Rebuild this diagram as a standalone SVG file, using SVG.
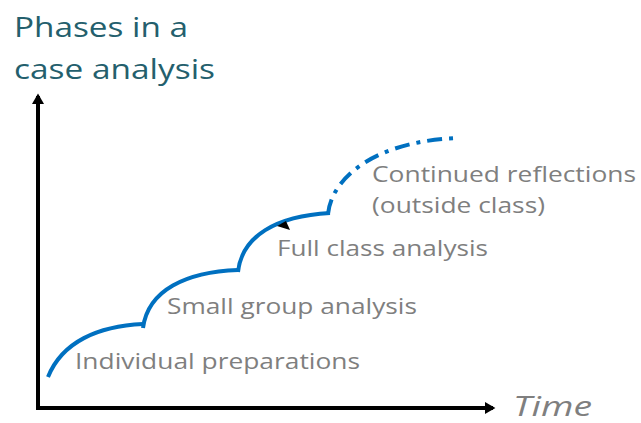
<svg xmlns="http://www.w3.org/2000/svg" width="641" height="423" viewBox="0 0 641 423">
  <style>
    .title { font-family: "Open Sans", "Liberation Sans", sans-serif; font-size: 28px; fill: #245f6d; }
    .label { font-family: "Open Sans", "Liberation Sans", sans-serif; font-size: 22px; fill: #7f7f7f; }
    .axis { fill: none; stroke: #000; stroke-width: 4; }
    .phase { fill: none; stroke: #0070c0; stroke-width: 4; }
    .future { stroke-dasharray: 15 7 4 7; }
  </style>
  <defs>
    <marker id="arrow" markerWidth="4" markerHeight="4" refX="2" refY="2" orient="auto" markerUnits="strokeWidth">
      <path d="M0,0.5 L2.6,2 L0,3.5 Z" fill="#000"/>
    </marker>
  </defs>
  <rect width="641" height="423" fill="#fff"/>

  <g id="title">
    <text class="title" x="14" y="37" textLength="174" lengthAdjust="spacingAndGlyphs">Phases in a</text>
    <text class="title" x="14" y="79" textLength="201" lengthAdjust="spacingAndGlyphs">case analysis</text>
  </g>

  <g id="axes">
    <path class="axis" d="M38,410 L38,96" marker-end="url(#arrow)"/>
    <path class="axis" d="M36,408 L493,408" marker-end="url(#arrow)"/>
    <text class="label" x="513" y="416" style="font-size:27px;font-style:italic" textLength="79" lengthAdjust="spacingAndGlyphs">Time</text>
  </g>

  <g id="connectors">
    <path class="phase" d="M48,377 C62,342 98,326 143,324"/>
    <path class="phase" d="M143,328 C148,290 186,272 238,270"/>
    <path class="phase" d="M238,272 C242,236 276,216 330,213"/>
    <path class="phase future" d="M328,214 C332,175 380,140 460,138"/>
    <polygon points="277,226 286,221 290,230" fill="#000"/>
  </g>

  <g id="individual">
    <text class="label" x="75" y="369" textLength="285" lengthAdjust="spacingAndGlyphs">Individual preparations</text>
  </g>
  <g id="small-group">
    <text class="label" x="167" y="314" textLength="250" lengthAdjust="spacingAndGlyphs">Small group analysis</text>
  </g>
  <g id="full-class">
    <text class="label" x="277" y="256" textLength="211" lengthAdjust="spacingAndGlyphs">Full class analysis</text>
  </g>
  <g id="continued">
    <text class="label" x="372" y="182" textLength="264" lengthAdjust="spacingAndGlyphs">Continued reflections</text>
    <text class="label" x="372" y="213" textLength="173" lengthAdjust="spacingAndGlyphs">(outside class)</text>
  </g>
</svg>
